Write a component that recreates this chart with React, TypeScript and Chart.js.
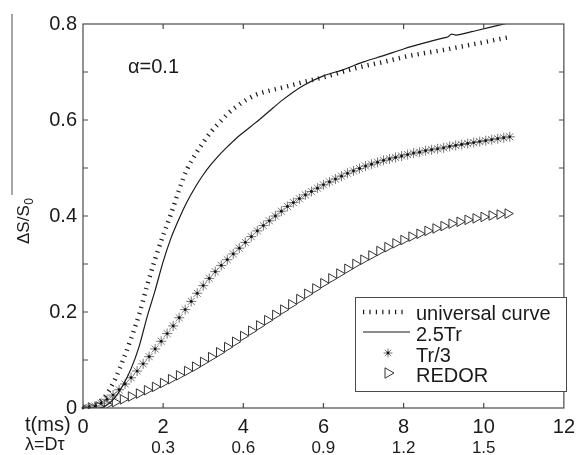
import React, { useEffect, useRef } from 'react';
import { Chart, registerables } from 'chart.js';

Chart.register(...registerables);

const FONT = '"Liberation Sans", Arial, Helvetica, sans-serif';

// ---- tick labels ----
const X_TICK_STEP = 2;
const LAMBDA_LABELS = ['', '0.3', '0.6', '0.9', '1.2', '1.5', ''];
const Y_TICK_LABELS = ['0', '', '0.2', '', '0.4', '', '0.6', '', '0.8'];
const SERIES_LABELS = ['universal curve', '2.5Tr', 'Tr/3', 'REDOR'];
const ANNOTATION = 'α=0.1';
const X_TITLE = 't(ms)';
const X2_TITLE = 'λ=Dτ';
const Y_TITLE = 'ΔS/S';
const Y_TITLE_SUB = '0';

// ---- universal curve (dotted) ----
const T_UNIV = [0, 0.2, 0.4, 0.6, 0.8, 1.0, 1.2, 1.4, 1.6, 1.8, 2.0, 2.2, 2.4, 2.6, 2.8, 3.0, 3.2, 3.4, 3.6, 3.8, 4.0, 4.3, 4.6, 5.0, 5.5, 6.0, 6.5, 7.0, 7.5, 8.0, 8.5, 9.0, 9.5, 10.0, 10.6];
const V_UNIV = [0, 0.003, 0.012, 0.03, 0.06, 0.1, 0.145, 0.195, 0.255, 0.31, 0.36, 0.405, 0.455, 0.498, 0.528, 0.553, 0.576, 0.594, 0.612, 0.626, 0.638, 0.652, 0.66, 0.668, 0.679, 0.689, 0.701, 0.712, 0.721, 0.731, 0.739, 0.746, 0.754, 0.762, 0.772];

// ---- 2.5Tr (solid) ----
const T_25TR = [0, 0.4, 0.6, 0.8, 1.0, 1.2, 1.4, 1.6, 1.8, 2.0, 2.2, 2.4, 2.6, 2.8, 3.0, 3.2, 3.4, 3.6, 3.8, 4.0, 4.3, 4.6, 5.0, 5.5, 6.0, 6.5, 7.0, 7.5, 8.0, 8.5, 9.0, 9.1, 9.2, 9.3, 9.5, 9.8, 10.2, 10.6];
const V_25TR = [0, 0, 0.006, 0.022, 0.048, 0.082, 0.128, 0.19, 0.245, 0.305, 0.355, 0.395, 0.43, 0.46, 0.486, 0.508, 0.527, 0.544, 0.56, 0.574, 0.594, 0.615, 0.643, 0.672, 0.692, 0.705, 0.721, 0.734, 0.748, 0.76, 0.771, 0.773, 0.779, 0.777, 0.78, 0.786, 0.794, 0.802];

// ---- Tr/3 (stars) ----
const T_TR3 = [0, 0.15, 0.3, 0.45, 0.6, 0.75, 0.9, 1.05, 1.2, 1.35, 1.5, 1.65, 1.8, 1.95, 2.1, 2.25, 2.4, 2.55, 2.7, 2.85, 3.0, 3.15, 3.3, 3.45, 3.6, 3.75, 3.9, 4.05, 4.2, 4.35, 4.5, 4.65, 4.8, 4.95, 5.1, 5.25, 5.4, 5.55, 5.7, 5.85, 6.0, 6.15, 6.3, 6.45, 6.6, 6.75, 6.9, 7.05, 7.2, 7.35, 7.5, 7.65, 7.8, 7.95, 8.1, 8.25, 8.4, 8.55, 8.7, 8.85, 9.0, 9.15, 9.3, 9.45, 9.6, 9.75, 9.9, 10.05, 10.2, 10.35, 10.5, 10.65];
const V_TR3 = [0, 0.001, 0.004, 0.01, 0.018, 0.027, 0.038, 0.05, 0.063, 0.077, 0.092, 0.107, 0.123, 0.139, 0.155, 0.171, 0.188, 0.205, 0.222, 0.239, 0.255, 0.27, 0.284, 0.297, 0.309, 0.321, 0.333, 0.345, 0.357, 0.369, 0.38, 0.39, 0.4, 0.41, 0.42, 0.428, 0.436, 0.444, 0.451, 0.458, 0.465, 0.471, 0.477, 0.483, 0.489, 0.494, 0.499, 0.504, 0.508, 0.512, 0.516, 0.519, 0.522, 0.525, 0.528, 0.531, 0.533, 0.536, 0.538, 0.54, 0.542, 0.545, 0.547, 0.549, 0.551, 0.553, 0.555, 0.557, 0.559, 0.561, 0.563, 0.565];

// ---- REDOR (triangles) ----
const T_REDOR = [0, 0.2, 0.4, 0.6, 0.8, 1.0, 1.2, 1.4, 1.6, 1.8, 2.0, 2.2, 2.4, 2.6, 2.8, 3.0, 3.2, 3.4, 3.6, 3.8, 4.0, 4.2, 4.4, 4.6, 4.8, 5.0, 5.2, 5.4, 5.6, 5.8, 6.0, 6.2, 6.4, 6.6, 6.8, 7.0, 7.2, 7.4, 7.6, 7.8, 8.0, 8.2, 8.4, 8.6, 8.8, 9.0, 9.2, 9.4, 9.6, 9.8, 10.0, 10.2, 10.4, 10.6];
const V_REDOR = [0, 0.001, 0.003, 0.007, 0.012, 0.018, 0.024, 0.03, 0.037, 0.044, 0.052, 0.06, 0.068, 0.077, 0.086, 0.096, 0.106, 0.116, 0.127, 0.138, 0.15, 0.161, 0.172, 0.183, 0.194, 0.205, 0.216, 0.227, 0.238, 0.249, 0.26, 0.27, 0.28, 0.29, 0.3, 0.309, 0.318, 0.327, 0.335, 0.343, 0.35, 0.357, 0.363, 0.369, 0.374, 0.379, 0.384, 0.388, 0.392, 0.395, 0.398, 0.401, 0.403, 0.405];

const toXY = (xs: number[], ys: number[]) => xs.map((x, i) => ({ x, y: ys[i] }));

const INK = '#1a1a1a';
const FRAME = '#4a4a4a';

function drawStar(ctx: CanvasRenderingContext2D, x: number, y: number, r: number) {
  ctx.save();
  ctx.strokeStyle = '#777';
  ctx.lineWidth = 1;
  ctx.beginPath();
  for (let k = 0; k < 4; k++) {
    const a = (k * Math.PI) / 4;
    ctx.moveTo(x - r * Math.cos(a), y - r * Math.sin(a));
    ctx.lineTo(x + r * Math.cos(a), y + r * Math.sin(a));
  }
  ctx.stroke();
  ctx.fillStyle = '#111';
  ctx.beginPath();
  ctx.arc(x, y, 1.4, 0, Math.PI * 2);
  ctx.fill();
  ctx.restore();
}

function drawTriangle(ctx: CanvasRenderingContext2D, x: number, y: number, r: number) {
  const edge = (3 * r) / Math.sqrt(3);
  const h = (edge * Math.sqrt(3)) / 2;
  ctx.save();
  ctx.strokeStyle = '#333';
  ctx.lineWidth = 1;
  ctx.beginPath();
  ctx.moveTo(x - h / 3, y - edge / 2);
  ctx.lineTo(x + (2 * h) / 3, y);
  ctx.lineTo(x - h / 3, y + edge / 2);
  ctx.closePath();
  ctx.stroke();
  ctx.restore();
}

const decorPlugin = {
  id: 'decor',
  afterDatasetsDraw(chart: any) {
    const ctx: CanvasRenderingContext2D = chart.ctx;
    const meta = chart.getDatasetMeta(2);
    ctx.save();
    ctx.fillStyle = '#111';
    meta.data.forEach((pt: any) => {
      ctx.beginPath();
      ctx.arc(pt.x, pt.y, 1.4, 0, Math.PI * 2);
      ctx.fill();
    });
    ctx.restore();
  },
  afterDraw(chart: any) {
    const ctx: CanvasRenderingContext2D = chart.ctx;
    const a = chart.chartArea;
    const xs = chart.scales.x;
    const ys = chart.scales.y;
    ctx.save();
    // frame
    ctx.strokeStyle = FRAME;
    ctx.lineWidth = 1.2;
    ctx.strokeRect(a.left, a.top, a.right - a.left, a.bottom - a.top);
    // inward ticks
    const TL = 5;
    ctx.beginPath();
    ys.ticks.forEach((t: any) => {
      const py = ys.getPixelForValue(t.value);
      if (py <= a.top + 0.5 || py >= a.bottom - 0.5) return;
      ctx.moveTo(a.left, py);
      ctx.lineTo(a.left + TL, py);
      ctx.moveTo(a.right, py);
      ctx.lineTo(a.right - TL, py);
    });
    xs.ticks.forEach((t: any) => {
      const px = xs.getPixelForValue(t.value);
      if (px <= a.left + 0.5 || px >= a.right - 0.5) return;
      ctx.moveTo(px, a.bottom);
      ctx.lineTo(px, a.bottom - TL);
      ctx.moveTo(px, a.top);
      ctx.lineTo(px, a.top + TL);
    });
    ctx.stroke();

    // annotation
    ctx.fillStyle = INK;
    ctx.font = `20px ${FONT}`;
    ctx.textAlign = 'left';
    ctx.textBaseline = 'middle';
    ctx.fillText(ANNOTATION, 128, 67);

    // x titles
    ctx.font = `20px ${FONT}`;
    ctx.fillText(X_TITLE, 25, 425);
    ctx.font = `18px ${FONT}`;
    ctx.fillText(X2_TITLE, 25, 445);

    // y title (rotated, with subscript)
    ctx.save();
    ctx.translate(29, 244);
    ctx.rotate(-Math.PI / 2);
    ctx.textBaseline = 'alphabetic';
    ctx.font = `17px ${FONT}`;
    ctx.fillText(Y_TITLE, 0, 0);
    const w = ctx.measureText(Y_TITLE).width;
    ctx.font = `12px ${FONT}`;
    ctx.fillText(Y_TITLE_SUB, w + 0.5, 4);
    ctx.restore();

    // stray vertical rule at far left
    ctx.strokeStyle = '#888';
    ctx.lineWidth = 1.5;
    ctx.beginPath();
    ctx.moveTo(12, 14);
    ctx.lineTo(12, 195);
    ctx.stroke();

    // legend
    const L = { x: 355, y: 297, w: 211, h: 94 };
    ctx.fillStyle = '#fff';
    ctx.fillRect(L.x, L.y, L.w, L.h);
    ctx.strokeStyle = FRAME;
    ctx.lineWidth = 1;
    ctx.strokeRect(L.x + 0.5, L.y + 0.5, L.w, L.h);
    const rows = [312, 333, 354, 374];
    // dotted sample
    ctx.save();
    ctx.strokeStyle = INK;
    ctx.lineWidth = 4.5;
    ctx.setLineDash([1.2, 5.2]);
    ctx.beginPath();
    ctx.moveTo(363, rows[0]);
    ctx.lineTo(406, rows[0]);
    ctx.stroke();
    ctx.restore();
    // solid sample
    ctx.strokeStyle = INK;
    ctx.lineWidth = 1.2;
    ctx.beginPath();
    ctx.moveTo(363, rows[1] - 1);
    ctx.lineTo(410, rows[1] - 1);
    ctx.stroke();
    drawStar(ctx, 388, rows[2] - 1, 4.5);
    drawTriangle(ctx, 388, rows[3] - 1, 6);
    ctx.fillStyle = INK;
    ctx.font = `20px ${FONT}`;
    ctx.textBaseline = 'middle';
    SERIES_LABELS.forEach((lab, i) => ctx.fillText(lab, 416, rows[i] + 2));
    ctx.restore();
  },
};

export default function App() {
  const ref = useRef<HTMLCanvasElement | null>(null);
  useEffect(() => {
    if (!ref.current) return;
    const chart = new Chart(ref.current, {
      type: 'scatter',
      data: {
        datasets: [
          {
            label: SERIES_LABELS[0],
            data: toXY(T_UNIV, V_UNIV),
            showLine: true,
            borderColor: INK,
            borderWidth: 4.5,
            borderDash: [1.2, 5.2],
            pointRadius: 0,
            cubicInterpolationMode: 'monotone',
          },
          {
            label: SERIES_LABELS[1],
            data: toXY(T_25TR, V_25TR),
            showLine: true,
            borderColor: INK,
            borderWidth: 1.2,
            pointRadius: 0,
            cubicInterpolationMode: 'monotone',
          },
          {
            label: SERIES_LABELS[2],
            data: toXY(T_TR3, V_TR3),
            showLine: false,
            pointStyle: 'star',
            pointRadius: 5,
            pointBorderColor: '#777',
            pointBorderWidth: 1,
          },
          {
            label: SERIES_LABELS[3],
            data: toXY(T_REDOR, V_REDOR),
            showLine: false,
            pointStyle: 'triangle',
            pointRotation: 90,
            pointRadius: 5.5,
            pointBorderColor: '#333',
            pointBackgroundColor: 'rgba(0,0,0,0)',
            pointBorderWidth: 1,
          },
        ],
      } as any,
      options: {
        responsive: false,
        animation: false,
        devicePixelRatio: 1,
        layout: { padding: { top: 24, right: 10, left: 0, bottom: 0 } },
        plugins: { legend: { display: false }, tooltip: { enabled: false } },
        scales: {
          x: {
            type: 'linear',
            position: 'bottom',
            weight: 0,
            min: 0,
            max: 12,
            grid: { display: false, drawTicks: false },
            border: { display: false },
            ticks: {
              stepSize: X_TICK_STEP,
              autoSkip: false,
              maxRotation: 0,
              padding: 7,
              color: INK,
              font: { family: FONT, size: 20 },
              callback: (v: any) => String(v),
            },
            afterFit: (s: any) => {
              s.height = 28;
            },
          },
          x2: {
            type: 'linear',
            position: 'bottom',
            weight: 1,
            min: 0,
            max: 12,
            grid: { display: false, drawTicks: false },
            border: { display: false },
            ticks: {
              stepSize: X_TICK_STEP,
              autoSkip: false,
              maxRotation: 0,
              padding: 2,
              color: INK,
              font: { family: FONT, size: 17 },
              callback: (v: any) => LAMBDA_LABELS[Math.round(Number(v) / X_TICK_STEP)] ?? '',
            },
            afterFit: (s: any) => {
              s.height = 19;
            },
          },
          y: {
            type: 'linear',
            min: 0,
            max: 0.8,
            grid: { display: false, drawTicks: false },
            border: { display: false },
            ticks: {
              stepSize: 0.1,
              autoSkip: false,
              padding: 6,
              color: INK,
              font: { family: FONT, size: 20 },
              callback: (v: any) => Y_TICK_LABELS[Math.round(Number(v) * 10)] ?? '',
            },
            afterFit: (s: any) => {
              s.width = 83;
            },
          },
        },
      } as any,
      plugins: [decorPlugin],
    });
    return () => chart.destroy();
  }, []);
  return (
    <div style={{ position: 'absolute', left: 0, top: 0, width: 582, height: 455, background: '#fff' }}>
      <canvas ref={ref} width={582} height={455} />
    </div>
  );
}
